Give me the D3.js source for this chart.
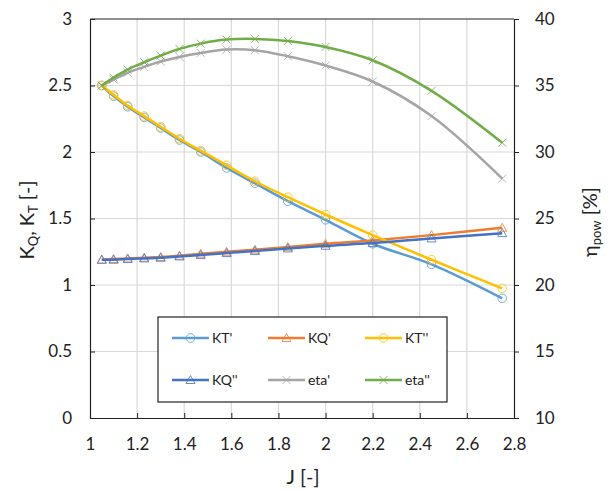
<!DOCTYPE html>
<html>
<head>
<meta charset="utf-8">
<script src="https://cdn.jsdelivr.net/npm/d3@7"></script>
<style>
  body { margin: 0; background: #fff; }
  svg { font-family: Lato, "Open Sans", sans-serif; }
</style>
</head>
<body>
<svg id="chart" width="613" height="491"></svg>
<script>
// advance ratio values
const J = [1.05, 1.1, 1.16, 1.23, 1.3, 1.38, 1.47, 1.58, 1.7, 1.84, 2.0, 2.2, 2.45, 2.75];

// series
const KT1 = [2.50, 2.42, 2.34, 2.26, 2.18, 2.09, 2.00, 1.88, 1.765, 1.63, 1.49, 1.31, 1.155, 0.90];
const KQ1 = [1.19, 1.195, 1.20, 1.205, 1.21, 1.22, 1.235, 1.25, 1.265, 1.285, 1.31, 1.335, 1.375, 1.43];
const KT2 = [2.50, 2.43, 2.35, 2.27, 2.19, 2.10, 2.01, 1.90, 1.78, 1.66, 1.53, 1.375, 1.19, 0.975];
const KQ2 = [1.19, 1.19, 1.195, 1.20, 1.205, 1.215, 1.225, 1.24, 1.255, 1.275, 1.295, 1.315, 1.35, 1.39];
const eta1 = [35.0, 35.45, 35.95, 36.4, 36.8, 37.15, 37.45, 37.7, 37.65, 37.2, 36.5, 35.3, 32.7, 28.0];
const eta2 = [35.0, 35.6, 36.2, 36.75, 37.25, 37.75, 38.15, 38.45, 38.5, 38.35, 37.9, 36.9, 34.6, 30.7];

const xTicks = [1, 1.2, 1.4, 1.6, 1.8, 2, 2.2, 2.4, 2.6, 2.8];
const yTicks = [0, 0.5, 1, 1.5, 2, 2.5, 3];
const y2Ticks = [10, 15, 20, 25, 30, 35, 40];

const seriesNames = ["KT'", "KQ'", "KT''", "KQ''", "eta'", "eta''"];
const seriesColors = ["#5B9BD5", "#ED7D31", "#FFC000", "#4472C4", "#A5A5A5", "#70AD47"];

const svg = d3.select("#chart");
const pLeft = 90, pRight = 514, pTop = 19, pBottom = 418;

const x = d3.scaleLinear().domain([1, 2.8]).range([pLeft, pRight]);
const y = d3.scaleLinear().domain([0, 3]).range([pBottom, pTop]);
const y2 = d3.scaleLinear().domain([10, 40]).range([pBottom, pTop]);

// grid
svg.append("g").selectAll("line").data(xTicks.slice(1, -1)).enter().append("line")
  .attr("x1", d => x(d)).attr("x2", d => x(d)).attr("y1", pTop).attr("y2", pBottom)
  .attr("stroke", "#d9d9d9").attr("stroke-width", 1.2);
svg.append("g").selectAll("line").data(yTicks.slice(1, -1)).enter().append("line")
  .attr("x1", pLeft).attr("x2", pRight).attr("y1", d => y(d)).attr("y2", d => y(d))
  .attr("stroke", "#d9d9d9").attr("stroke-width", 1.2);

// axes
const fmt = d => String(d);
const xAxis = svg.append("g").attr("transform", `translate(0,${pBottom})`)
  .call(d3.axisBottom(x).tickValues(xTicks).tickFormat(fmt).tickSizeInner(-5).tickSizeOuter(0).tickPadding(20));
const yAxis = svg.append("g").attr("transform", `translate(${pLeft},0)`)
  .call(d3.axisLeft(y).tickValues(yTicks).tickFormat(fmt).tickSizeInner(-5).tickSizeOuter(0).tickPadding(18));
const y2Axis = svg.append("g").attr("transform", `translate(${pRight},0)`)
  .call(d3.axisRight(y2).tickValues(y2Ticks).tickFormat(fmt).tickSizeInner(5).tickSizeOuter(0).tickPadding(16));

[xAxis, yAxis, y2Axis].forEach(a => {
  a.select(".domain").attr("stroke", "#222").attr("stroke-width", 1.2);
  a.selectAll(".tick line").attr("stroke", "#222");
  a.selectAll(".tick text").attr("font-size", 17).attr("fill", "#222")
    .attr("font-family", "Lato, 'Open Sans', sans-serif");
});
// top frame
svg.append("line").attr("x1", pLeft).attr("x2", pRight).attr("y1", pTop).attr("y2", pTop)
  .attr("stroke", "#222").attr("stroke-width", 1.2);

// series
const series = [
  { v: KT1, s: y, m: "circle" },
  { v: KQ1, s: y, m: "triangle" },
  { v: KT2, s: y, m: "circle" },
  { v: KQ2, s: y, m: "triangle" },
  { v: eta1, s: y2, m: "cross" },
  { v: eta2, s: y2, m: "cross" }
];

function drawMarker(g, type, cx, cy, color) {
  if (type === "circle") {
    g.append("circle").attr("cx", cx).attr("cy", cy).attr("r", 4.3)
      .attr("fill", "none").attr("stroke", color).attr("stroke-width", 1).attr("opacity", 0.8);
  } else if (type === "triangle") {
    g.append("path").attr("d", `M${cx - 4.5},${cy + 3.5}L${cx},${cy - 4.5}L${cx + 4.5},${cy + 3.5}Z`)
      .attr("fill", "none").attr("stroke", color).attr("stroke-width", 1).attr("opacity", 0.8);
  } else {
    g.append("path").attr("d", `M${cx - 4},${cy - 4}L${cx + 4},${cy + 4}M${cx - 4},${cy + 4}L${cx + 4},${cy - 4}`)
      .attr("stroke", color).attr("stroke-width", 1).attr("opacity", 0.8);
  }
}

series.forEach((sr, i) => {
  const pts = J.map((j, k) => [x(j), sr.s(sr.v[k])]);
  const line = d3.line().curve(d3.curveCatmullRom.alpha(0.5));
  const g = svg.append("g");
  g.append("path").attr("d", line(pts)).attr("fill", "none")
    .attr("stroke", seriesColors[i]).attr("stroke-width", 2.5);
  pts.forEach(p => drawMarker(g, sr.m, p[0], p[1], seriesColors[i]));
});

// legend
const lg = svg.append("g");
lg.append("rect").attr("x", 158).attr("y", 317).attr("width", 289).attr("height", 85)
  .attr("fill", "#fff").attr("stroke", "#222").attr("stroke-width", 1.2);
const colX = [172, 268, 365];
const rowY = [338, 380];
seriesNames.forEach((name, i) => {
  const cx = colX[i % 3], cy = rowY[Math.floor(i / 3)];
  lg.append("line").attr("x1", cx).attr("x2", cx + 37).attr("y1", cy).attr("y2", cy)
    .attr("stroke", seriesColors[i]).attr("stroke-width", 2.5);
  drawMarker(lg, series[i].m, cx + 18.5, cy, seriesColors[i]);
  lg.append("text").attr("x", cx + 40).attr("y", cy + 5).attr("font-size", 14)
    .attr("fill", "#222").text(name);
});

// axis titles
svg.append("text").attr("x", 303).attr("y", 484).attr("text-anchor", "middle")
  .attr("font-size", 20).attr("fill", "#222").text("J [-]");

const lt = svg.append("text").attr("transform", "translate(34,220) rotate(-90)")
  .attr("text-anchor", "middle").attr("font-size", 20).attr("fill", "#222");
lt.append("tspan").text("K");
lt.append("tspan").attr("font-size", 13).attr("dy", 4).text("Q");
lt.append("tspan").attr("dy", -4).text(", K");
lt.append("tspan").attr("font-size", 13).attr("dy", 4).text("T");
lt.append("tspan").attr("dy", -4).text(" [-]");

const rt = svg.append("text").attr("transform", "translate(597,222) rotate(-90)")
  .attr("text-anchor", "middle").attr("font-size", 20).attr("fill", "#222");
rt.append("tspan").text("η");
rt.append("tspan").attr("font-size", 13).attr("dy", 4).text("pow");
rt.append("tspan").attr("dy", -4).text(" [%]");
</script>
</body>
</html>
